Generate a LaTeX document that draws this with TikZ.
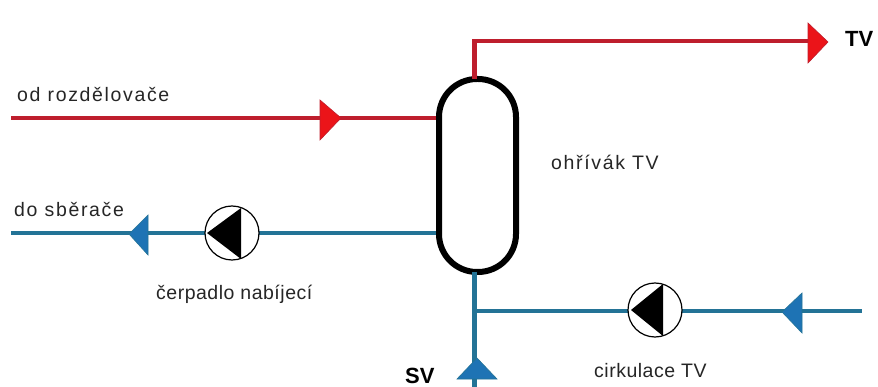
\documentclass[tikz,border=0pt]{standalone}
\usepackage{fontspec}
\setmainfont{Liberation Sans}
\newfontfamily\widesp[LetterSpace=8.5]{Liberation Sans}
\newfontfamily\midsp[LetterSpace=2.6]{Liberation Sans}
\tikzset{
  redpipe/.style={draw=pipered,line width=4.5pt},
  bluepipe/.style={draw=pipeblue,line width=4.5pt},
  redtip/.style={fill=tipred,draw=pipered,line width=.6pt},
  bluetip/.style={fill=tipblue,draw=pipeblue,line width=.6pt},
  tank/.style={draw=black,line width=6pt,fill=white,rounded corners=38pt,minimum width=77pt,minimum height=193pt,inner sep=0pt},
  pumpc/.style={circle,draw=black,line width=1.2pt,fill=white,minimum size=54pt,inner sep=0pt},
  lab/.style={anchor=base west,inner sep=0pt,text=black!85,font=\fontsize{19.5}{21}\selectfont\widesp},
  labm/.style={anchor=base west,inner sep=0pt,text=black!85,font=\fontsize{19.5}{21}\selectfont\midsp},
  blab/.style={anchor=base west,inner sep=0pt,font=\fontsize{22}{24}\selectfont\bfseries}
}
\definecolor{pipered}{RGB}{190,30,45}
\definecolor{tipred}{RGB}{235,20,25}
\definecolor{pipeblue}{RGB}{35,115,150}
\definecolor{tipblue}{RGB}{30,115,180}
\begin{document}
\begin{tikzpicture}[x=1pt,y=-1pt]
\useasboundingbox (0,0) rectangle (878,387);
\fill[white] (0,0) rectangle (878,387);
% free ends
\coordinate (rs) at (11,118);
\coordinate (bs) at (11,233);
\coordinate (ce) at (862,311);
\coordinate (sv) at (474.5,387);
\coordinate (corner) at (474.5,41);
\coordinate (tvend) at (815,41);
\coordinate (junction) at (474.5,311);
% pipes
\node[tank] (tk) at (477.5,175.5) {};
\draw[redpipe] (rs) -- (tk.west |- rs);
\draw[bluepipe] (bs) -- (tk.west |- bs);
\draw[redpipe] (474.5,79) -- (corner) -- (tvend);
\draw[bluepipe] (474.5,272) -- (sv);
\draw[bluepipe] (junction) -- (ce);
% arrowheads
\draw[redtip] (320,100) -- (341,118) -- (320,140) -- cycle;
\draw[redtip] (808,23) -- (828,42) -- (808,63) -- cycle;
\draw[bluetip] (148,215) -- (129,234) -- (148,255) -- cycle;
\draw[bluetip] (802,293) -- (782,312) -- (802,333) -- cycle;
\draw[bluetip] (457,379) -- (477,358) -- (497,379) -- cycle;
% pumps
\node[pumpc] (p1) at (232,233) {};
\fill[black] (241,208) -- (207,233) -- (241,259) -- cycle;
\node[pumpc] (p2) at (655,310) {};
\fill[black] (663,284) -- (631,310) -- (663,336) -- cycle;
% labels
\node[lab] (t1) at (17,102) {od rozdělovače};
\node[lab] (t2) at (14,217) {do sběrače};
\node[labm] (t3) at (156,300) {čerpadlo nabíjecí};
\node[lab] (t4) at (551,170) {ohřívák TV};
\node[labm] (t5) at (594,377) {cirkulace TV};
\node[blab] (t6) at (845,47) {TV};
\node[blab] (t7) at (405,383) {SV};
\end{tikzpicture}
\end{document}
